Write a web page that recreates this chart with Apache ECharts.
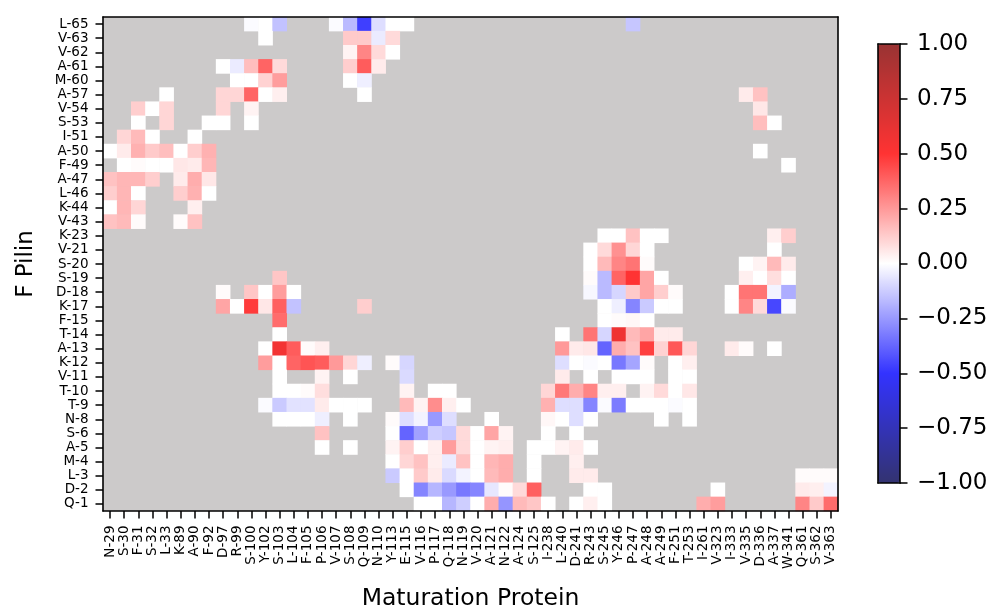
<!DOCTYPE html>
<html>
<head>
<meta charset="utf-8">
<script src="https://cdn.jsdelivr.net/npm/echarts@6/dist/echarts.min.js"></script>
<style>
  html, body { margin: 0; padding: 0; background: #ffffff; }
  #chart { width: 991px; height: 612px; }
</style>
</head>
<body>
<div id="chart"></div>
<script>
// Maturation protein residues (columns)
const xLabels = ['N-29','S-30','F-31','S-32','L-33','K-89','A-90','F-92','D-97','R-99',
  'S-100','Y-102','S-103','L-104','F-105','P-106','V-107','S-108','Q-109','N-110',
  'Y-113','E-115','V-116','P-117','Q-118','N-119','V-120','A-121','N-122','A-124',
  'S-125','I-238','L-240','D-241','R-243','S-245','Y-246','P-247','A-248','A-249',
  'F-251','T-253','I-261','V-323','I-333','V-335','D-336','A-337','W-341','Q-361',
  'S-362','V-363'];

// F pilin residues (rows, listed top to bottom)
const yLabels = ['L-65','V-63','V-62','A-61','M-60','A-57','V-54','S-53','I-51','A-50',
  'F-49','A-47','L-46','K-44','V-43','K-23','V-21','S-20','S-19','D-18',
  'K-17','F-15','T-14','A-13','K-12','V-11','T-10','T-9','N-8','S-6',
  'A-5','M-4','L-3','D-2','Q-1'];

// Colour bar ticks
const barTicks = [-1, -0.75, -0.5, -0.25, 0, 0.25, 0.5, 0.75, 1];

// Contact correlation per pilin residue: [column index, value]; absent pairs are masked
const rowCells = [
  /* L-65 */ [[10,-0.01],[11,0],[12,-0.15],[16,-0.01],[17,-0.17],[18,-0.47],[19,-0.08],[20,0],[21,0],[37,-0.14]],
  /* V-63 */ [[11,0],[17,0.13],[18,0.13],[19,-0.05],[20,0.09]],
  /* V-62 */ [[17,0.03],[18,0.3],[19,0.09],[20,0]],
  /* A-61 */ [[8,0],[9,-0.05],[10,0.16],[11,0.38],[12,0.09],[17,0.12],[18,0.4],[19,0.05]],
  /* M-60 */ [[9,0],[10,0],[11,0.11],[12,0.24],[17,0],[18,-0.04]],
  /* A-57 */ [[4,0],[8,0.1],[9,0.1],[10,0.38],[11,0],[12,0.04],[18,0],[45,0.05],[46,0.15]],
  /* V-54 */ [[2,0.12],[3,0],[4,0.1],[8,0.1],[10,0.03],[46,0.06]],
  /* S-53 */ [[2,0],[4,0.1],[7,0],[8,0],[10,0],[46,0.16],[47,0]],
  /* I-51 */ [[1,0.1],[2,0.17],[3,0],[6,0]],
  /* A-50 */ [[0,0],[1,0.05],[2,0.19],[3,0.13],[4,0.16],[5,0],[6,0.12],[7,0.19],[46,0]],
  /* F-49 */ [[1,0],[2,0.01],[3,0],[4,0],[5,0.06],[6,0.05],[7,0.18],[48,0]],
  /* A-47 */ [[0,0.15],[1,0.18],[2,0.18],[3,0.12],[5,0.05],[6,0.2],[7,0.06]],
  /* L-46 */ [[0,0.12],[1,0.18],[2,0],[5,0.12],[6,0.19],[7,0]],
  /* K-44 */ [[0,0],[1,0.18],[2,0.1],[6,0.04]],
  /* V-43 */ [[0,0.15],[1,0.17],[2,0.01],[5,0.01],[6,0.15]],
  /* K-23 */ [[35,0],[36,0],[37,0.15],[38,0],[39,0],[47,0.04],[48,0.12]],
  /* V-21 */ [[34,0],[35,0.09],[36,0.27],[37,0.1],[38,0],[47,0]],
  /* S-20 */ [[34,0],[35,0.17],[36,0.3],[37,0.34],[38,0.01],[45,0],[46,0.03],[47,0.17],[48,0.05]],
  /* S-19 */ [[12,0.14],[34,0.01],[35,-0.17],[36,0.38],[37,0.5],[38,0.22],[39,0],[45,0.04],[46,0],[47,0.08],[48,0]],
  /* D-18 */ [[8,0.01],[10,0.14],[11,0],[12,0.24],[13,0],[34,-0.02],[35,-0.17],[36,-0.1],[37,0.13],[38,0.22],[39,0.12],[40,0.01],[44,0],[45,0.34],[46,0.34],[47,-0.03],[48,-0.2]],
  /* K-17 */ [[8,0.22],[9,0],[10,0.48],[11,0.06],[12,0.39],[13,-0.15],[18,0.12],[35,0],[36,-0.04],[37,-0.3],[38,-0.13],[39,0],[40,0],[44,0],[45,0.3],[46,0.09],[47,-0.45],[48,-0.01]],
  /* F-15 */ [[12,0.36],[35,0],[36,0.01],[37,0.02],[38,0]],
  /* T-14 */ [[12,0],[32,0],[34,0.34],[35,-0.1],[36,0.58],[37,0.17],[38,0.22],[39,0.05],[40,0.05]],
  /* A-13 */ [[11,0],[12,0.56],[13,0.4],[14,0.01],[15,0.04],[32,0.25],[33,0.05],[34,0.06],[35,-0.38],[36,0.2],[37,0.15],[38,0.47],[39,0.11],[40,0.41],[41,0.1],[44,0.05],[45,0.01],[47,0]],
  /* K-12 */ [[11,0.24],[12,0],[13,0.38],[14,0.42],[15,0.4],[16,0.25],[17,0.1],[18,-0.04],[20,0.01],[21,-0.1],[32,-0.08],[33,0],[34,-0.01],[35,0],[36,-0.33],[37,-0.22],[38,0.01],[40,0],[41,0.04]],
  /* V-11 */ [[12,0],[15,0.03],[17,0],[21,-0.09],[32,0.05],[34,0],[36,0],[37,0],[38,0],[40,0],[41,0]],
  /* T-10 */ [[12,0],[13,0],[14,0.01],[15,0.08],[21,0.03],[23,0],[24,0],[31,0.1],[32,0.33],[33,0.2],[34,0.3],[35,0.04],[36,0.04],[38,0.03],[39,0.09],[40,0],[41,0.06]],
  /* T-9 */  [[11,-0.01],[12,-0.13],[13,-0.07],[14,-0.07],[15,0.05],[16,0],[17,0],[18,0],[21,0.17],[22,0.03],[23,0.28],[24,0.04],[25,0],[31,0.19],[32,-0.08],[33,-0.08],[34,-0.3],[35,-0.01],[36,-0.32],[37,0],[38,0],[39,0],[40,-0.01],[41,0]],
  /* N-8 */  [[12,0],[13,0],[14,0],[15,-0.04],[17,0],[20,0.01],[21,-0.08],[22,-0.03],[23,-0.25],[24,-0.08],[27,0],[31,0.02],[32,0],[33,-0.08],[34,0],[39,0],[41,0]],
  /* S-6 */  [[15,0.15],[20,0],[21,-0.38],[22,-0.23],[23,-0.12],[24,-0.14],[25,0.09],[26,0],[27,0.22],[28,0.03],[31,0],[33,0]],
  /* A-5 */  [[15,0],[17,0],[20,0.03],[21,0.12],[22,0],[23,0.04],[24,0.24],[25,0.09],[26,0],[27,0.03],[28,0.04],[30,0],[31,0],[32,0.03],[33,0.05],[34,0]],
  /* M-4 */  [[20,0],[21,0.1],[22,0.15],[23,0.04],[24,-0.05],[25,0.15],[26,0],[27,0.18],[28,0.2],[30,0],[33,0.04]],
  /* L-3 */  [[20,-0.13],[21,0],[22,0.13],[23,0.05],[24,-0.09],[25,-0.03],[26,0],[27,0.17],[28,0.2],[30,0],[33,0.05],[34,0.05],[49,0.01],[50,0.01],[51,0.01]],
  /* D-2 */  [[21,0],[22,-0.3],[23,-0.18],[24,-0.25],[25,-0.33],[26,-0.3],[27,-0.06],[28,0.01],[29,0.09],[30,0.39],[34,0],[35,0],[43,0],[49,0.05],[50,0.04],[51,-0.03]],
  /* Q-1 */  [[22,0],[23,0],[24,-0.18],[25,-0.12],[26,0],[27,0.2],[28,-0.26],[29,0.17],[30,0.14],[31,0],[33,0],[34,0.04],[35,0],[42,0.2],[43,0.24],[49,0.3],[50,0.13],[51,0.36]]
];

// Heatmap triples [x, y, value]
const heatData = [];
rowCells.forEach((cells, r) => {
  cells.forEach(([c, v]) => heatData.push([c, r, v]));
});

const FONT = 'DejaVu Sans';
const frameLine = { show: true, onZero: false, lineStyle: { color: '#000', width: 1.6 } };
const tickStyle = { color: '#000', width: 1.5 };
const minusFmt = v => (v < 0 ? '\u2212' : '') + Math.abs(v).toFixed(2);

const chart = echarts.init(document.getElementById('chart'), null, { renderer: 'canvas' });
chart.setOption({
  animation: false,
  backgroundColor: '#ffffff',
  textStyle: { fontFamily: FONT },
  grid: [
    { left: 103, top: 17, width: 735, height: 494, show: true, backgroundColor: '#cccaca', borderWidth: 0,
      containLabel: false, outerBoundsMode: 'none' },
    { left: 878, top: 44, width: 22, height: 439, show: false,
      containLabel: false, outerBoundsMode: 'none' }
  ],
  xAxis: [
    {
      type: 'category', gridIndex: 0, data: xLabels, position: 'bottom', z: 10,
      axisLine: frameLine,
      axisTick: { show: true, alignWithLabel: true, interval: 0, length: 7.5, lineStyle: tickStyle },
      axisLabel: { interval: 0, rotate: 90, fontSize: 13.5, color: '#000', margin: 14.5, fontFamily: FONT },
      splitLine: { show: false },
      name: 'Maturation Protein', nameLocation: 'middle', nameGap: 76,
      nameTextStyle: { fontSize: 23.5, color: '#000', fontFamily: FONT }
    },
    {
      type: 'category', gridIndex: 0, data: xLabels, position: 'top', z: 10,
      axisLine: frameLine, axisTick: { show: false }, axisLabel: { show: false }, splitLine: { show: false }
    },
    {
      type: 'value', gridIndex: 1, min: 0, max: 1, position: 'bottom', z: 10,
      axisLine: frameLine, axisTick: { show: false }, axisLabel: { show: false }, splitLine: { show: false }
    },
    {
      type: 'value', gridIndex: 1, min: 0, max: 1, position: 'top', z: 10,
      axisLine: frameLine, axisTick: { show: false }, axisLabel: { show: false }, splitLine: { show: false }
    }
  ],
  yAxis: [
    {
      type: 'category', gridIndex: 0, data: yLabels, inverse: true, position: 'left', z: 10,
      axisLine: frameLine,
      axisTick: { show: true, alignWithLabel: true, interval: 0, length: 7.5, lineStyle: tickStyle },
      axisLabel: { interval: 0, fontSize: 13.5, color: '#000', margin: 14.5, fontFamily: FONT },
      splitLine: { show: false },
      name: 'F Pilin', nameLocation: 'middle', nameGap: 65, nameRotate: 90,
      nameTextStyle: { fontSize: 23, color: '#000', fontFamily: FONT }
    },
    {
      type: 'category', gridIndex: 0, data: yLabels, inverse: true, position: 'right', z: 10,
      axisLine: frameLine, axisTick: { show: false }, axisLabel: { show: false }, splitLine: { show: false }
    },
    {
      type: 'value', gridIndex: 1, min: -1, max: 1, interval: 0.25, position: 'right', z: 10,
      axisLine: frameLine,
      axisTick: { show: true, length: 7.5, lineStyle: tickStyle },
      axisLabel: { fontSize: 23, color: '#000', margin: 17, fontFamily: FONT, formatter: minusFmt },
      splitLine: { show: false }
    },
    {
      type: 'value', gridIndex: 1, min: -1, max: 1, position: 'left', z: 10,
      axisLine: frameLine, axisTick: { show: false }, axisLabel: { show: false }, splitLine: { show: false }
    }
  ],
  visualMap: {
    type: 'continuous', min: -1, max: 1, calculable: false, seriesIndex: 0,
    orient: 'vertical', left: 878, top: 44, itemWidth: 22, itemHeight: 439, padding: 0,
    text: null, showLabel: false, hoverLink: false,
    inRange: { color: ['#333370', '#3333ff', '#ffffff', '#ff3333', '#993333'] }
  },
  series: [{
    type: 'heatmap', xAxisIndex: 0, yAxisIndex: 0, data: heatData,
    itemStyle: { borderWidth: 0 },
    emphasis: { disabled: true },
    progressive: 0
  }]
});
</script>
</body>
</html>
